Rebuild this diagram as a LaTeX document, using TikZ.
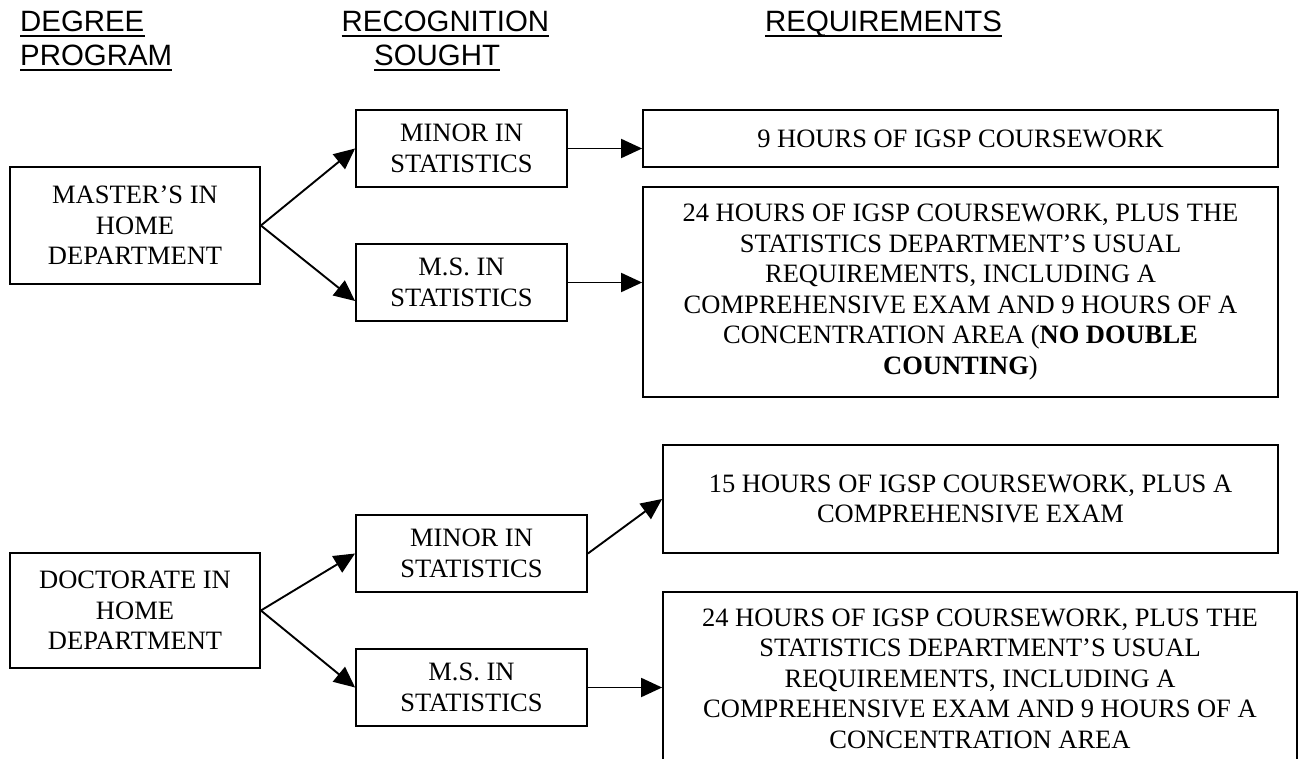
\documentclass[tikz,border=0pt]{standalone}
\usepackage{fontspec}
\setmainfont{Liberation Serif}
\setsansfont{Liberation Sans}
\usetikzlibrary{arrows.meta}
\tikzset{>={Triangle[length=21pt,width=19pt]}}
\tikzset{box/.style={draw, line width=1.8pt, align=center, inner sep=0pt,
    font=\fontsize{26.5}{30.5}\selectfont},
  head/.style={anchor=base west, inner sep=0pt,
    font=\sffamily\fontsize{29.4}{34}\selectfont},
  link/.style={->, line width=1.9pt}}

\begin{document}
\begin{tikzpicture}[x=1pt, y=-1pt]
\useasboundingbox (0,0) rectangle (1301,759);
% column headings
\node[head] (deg1) at (20,32) {DEGREE};
\node[head] (deg2) at (20,66) {PROGRAM};
\node[head] (rec1) at (341.5,32) {RECOGNITION};
\node[head] (rec2) at (374,66) {SOUGHT};
\node[head] (req) at (765,32) {REQUIREMENTS};
\foreach \h in {deg1,deg2,rec1,rec2,req}
\draw[line width=2pt] ([yshift=-4pt]\h.base west) -- ([yshift=-4pt]\h.base east);
% master's
\node[box, minimum width=250pt, minimum height=117pt] (mast) at (135,225.5) {MASTER’S IN\\HOME\\DEPARTMENT};
\node[box, minimum width=211pt, minimum height=77pt] (min1) at (461.5,148.5) {MINOR IN\\STATISTICS};
\node[box, minimum width=211pt, minimum height=77pt] (ms1) at (461.5,282.5) {M.S. IN\\STATISTICS};
\node[box, minimum width=635pt, minimum height=57pt] (req1) at (960.5,138.5) {9 HOURS OF IGSP COURSEWORK};
\node[box, minimum width=635pt, minimum height=210pt] (req2) at (960.5,292) {24 HOURS OF IGSP COURSEWORK, PLUS THE\\STATISTICS DEPARTMENT’S USUAL\\REQUIREMENTS, INCLUDING A\\COMPREHENSIVE EXAM AND 9 HOURS OF A\\CONCENTRATION AREA (\textbf{NO DOUBLE}\\\textbf{COUNTING})};
% doctorate
\node[box, minimum width=250pt, minimum height=115pt] (doct) at (135,610.5) {DOCTORATE IN\\HOME\\DEPARTMENT};
\node[box, minimum width=231pt, minimum height=77pt] (min2) at (471.5,553.5) {MINOR IN\\STATISTICS};
\node[box, minimum width=231pt, minimum height=77pt] (ms2) at (471.5,687.5) {M.S. IN\\STATISTICS};
\node[box, minimum width=615pt, minimum height=108pt] (req3) at (970.5,499) {15 HOURS OF IGSP COURSEWORK, PLUS A\\COMPREHENSIVE EXAM};
\node[box, minimum width=634pt, minimum height=173pt] (req4) at (980,678.5) {24 HOURS OF IGSP COURSEWORK, PLUS THE\\STATISTICS DEPARTMENT’S USUAL\\REQUIREMENTS, INCLUDING A\\COMPREHENSIVE EXAM AND 9 HOURS OF A\\CONCENTRATION AREA};
% arrows
\draw[link] (mast.east) -- (min1.west);
\draw[link] (mast.east) -- ([yshift=-18.5pt]ms1.west);
\draw[link] (min1.east) -- (min1.east -| req1.west);
\draw[link] (ms1.east) -- (ms1.east -| req2.west);
\draw[link] (doct.east) -- (min2.west);
\draw[link] (doct.east) -- (ms2.west);
\draw[link] (min2.east) -- (req3.west);
\draw[link] (ms2.east) -- (ms2.east -| req4.west);
\end{tikzpicture}
\end{document}
